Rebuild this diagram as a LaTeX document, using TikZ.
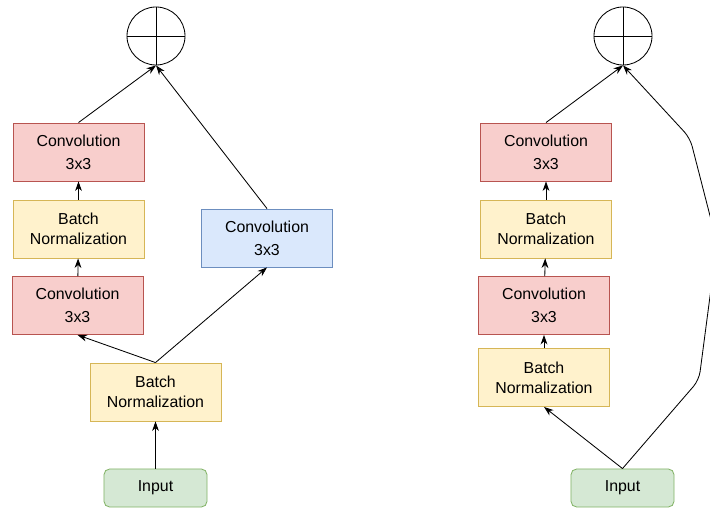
\documentclass[tikz,border=0pt]{standalone}
\usepackage{fontspec}
\setmainfont{Liberation Sans}
\usetikzlibrary{arrows.meta}
\definecolor{redfill}{HTML}{F8CECC}
\definecolor{redline}{HTML}{B85450}
\definecolor{yellowfill}{HTML}{FFF2CC}
\definecolor{yellowline}{HTML}{D6B656}
\definecolor{bluefill}{HTML}{DAE8FC}
\definecolor{blueline}{HTML}{6C8EBF}
\definecolor{greenfill}{HTML}{D5E8D4}
\definecolor{greenline}{HTML}{82B366}
\begin{document}
\begin{tikzpicture}[x = 0.025cm, y = -0.025cm,
        every node/.style = {font = \fontsize{11.3}{14}\selectfont, align = center, inner sep = 0pt},
        block/.style = {draw, line width = 0.6pt, minimum width = 3.275cm, minimum height = 1.45cm},
        conv/.style = {block, fill = redfill, draw = redline},
        norm/.style = {block, fill = yellowfill, draw = yellowline},
        side/.style = {block, fill = bluefill, draw = blueline},
        inp/.style = {draw = greenline, fill = greenfill, line width = 0.6pt, rounded corners = 4pt, minimum width = 2.575cm, minimum height = 0.95cm},
        sum/.style = {draw, circle, line width = 0.6pt, minimum size = 1.45cm},
        link/.style = {-{Stealth[length = 2.4mm, width = 1.7mm]}, line width = 0.6pt}]
    \useasboundingbox (0,0) rectangle (710,510);
    \begin{scope}
        \node[sum] (sumL) at (156,36) {};
        \draw (sumL.north) -- (sumL.south);
        \draw (sumL.west) -- (sumL.east);
        \node[conv] (convA) at (78.5,152) {Convolution\\[2.3pt]3x3};
        \node[norm] (bnA) at (78.5,229) {Batch\\Normalization};
        \node[conv] (convB) at (77.5,305.5) {Convolution\\[2.3pt]3x3};
        \node[norm] (bnB) at (155.5,392) {Batch\\Normalization};
        \node[inp] (inL) at (155.5,488) {Input};
        \node[side] (convS) at (267,238) {Convolution\\[2.3pt]3x3};
        \draw[link] (inL) -- (bnB);
        \draw[link] (bnB.north) -- (convB.south);
        \draw[link] (bnB.north) -- (convS.south);
        \draw[link] (convB) -- (bnA);
        \draw[link] (bnA) -- (convA);
        \draw[link] (convA.north) -- (sumL.south);
        \draw[link] (convS.north) -- (sumL.south);
    \end{scope}
    \begin{scope}
        \node[sum] (sumR) at (623,36) {};
        \draw (sumR.north) -- (sumR.south);
        \draw (sumR.west) -- (sumR.east);
        \node[conv] (convC) at (546,152) {Convolution\\[2.3pt]3x3};
        \node[norm] (bnC) at (546,229) {Batch\\Normalization};
        \node[conv] (convD) at (544,305.5) {Convolution\\[2.3pt]3x3};
        \node[norm] (bnD) at (544,377.5) {Batch\\Normalization};
        \node[inp] (inR) at (622.5,488) {Input};
        \coordinate (skipA) at (699,380);
        \coordinate (skipB) at (717,243);
        \coordinate (skipC) at (690,138);
        \draw[link] (inR.north) -- (bnD.south);
        \draw[link] (bnD) -- (convD);
        \draw[link] (convD) -- (bnC);
        \draw[link] (bnC) -- (convC);
        \draw[link] (convC.north) -- (sumR.south);
        \begin{scope}
            \clip (0,0) rectangle (710,510);
            \draw[link, rounded corners = 6pt] (inR.north) -- (skipA) -- (skipB) -- (skipC) -- (sumR.south);
        \end{scope}
    \end{scope}
\end{tikzpicture}
\end{document}
